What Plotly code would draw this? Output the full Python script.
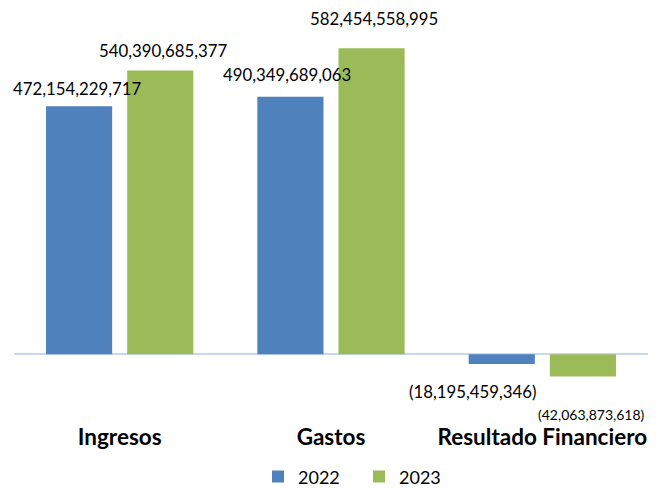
import plotly.graph_objects as go

categories = ["Ingresos", "Gastos", "Resultado Financiero"]
series_names = ["2022", "2023"]
values_2022 = [472154229717, 490349689063, -18195459346]
values_2023 = [540390685377, 582454558995, -42063873618]

colors = ["#4f81bd", "#9bbb59"]

def fmt(v):
    s = f"{abs(v):,}"
    return f"({s})" if v < 0 else s

fig = go.Figure()
for name, vals, col in zip(series_names, [values_2022, values_2023], colors):
    fig.add_trace(go.Bar(x=categories, y=vals, name=name, marker=dict(color=col, line=dict(width=0))))

# label offsets (pixels) [xshift, yshift, fontsize]
label_style = {
    ("2022", 0): (-2, 18, 16.8), ("2023", 0): (3, 20, 16.8),
    ("2022", 1): (-3, 22, 16.8), ("2023", 1): (2, 30, 16.8),
    ("2022", 2): (-29, -28, 16.8), ("2023", 2): (9, -38, 14),
}
slot_offset = {"2022": -0.192, "2023": 0.192}
for name, vals in zip(series_names, [values_2022, values_2023]):
    for i, v in enumerate(vals):
        xs, ys, fs = label_style[(name, i)]
        fig.add_annotation(
            x=i + slot_offset[name], y=v, xref="x", yref="y", text=fmt(v),
            showarrow=False, xshift=xs, yshift=ys,
            yanchor="middle", xanchor="center",
            font=dict(size=fs, color="#000000", family="Lato"),
        )

fig.update_layout(
    width=656, height=489,
    margin=dict(l=14, r=8, t=20, b=60),
    paper_bgcolor="white", plot_bgcolor="white",
    barmode="group", bargap=0.232, bargroupgap=0.185,
    font=dict(family="Lato", color="#000000"),
    xaxis=dict(type="category", range=[-0.5, 2.5], autorange=False,
               showline=False, showgrid=False, ticks="",
               tickfont=dict(size=22.5, family="Lato", color="#000000", weight="bold")),
    yaxis=dict(range=[-128.4e9, 636.4e9], autorange=False,
               showgrid=False, showticklabels=False,
               zeroline=True, zerolinecolor="#c6d9f1", zerolinewidth=2, showline=False),
    legend=dict(orientation="h", xref="paper", x=(258 - 14) / 634, xanchor="left",
                yref="container", y=0.025, yanchor="middle",
                font=dict(size=18, family="Lato", color="#000000"), itemwidth=30,
                entrywidth=56),
    showlegend=True,
)

fig.write_html("out.html")
